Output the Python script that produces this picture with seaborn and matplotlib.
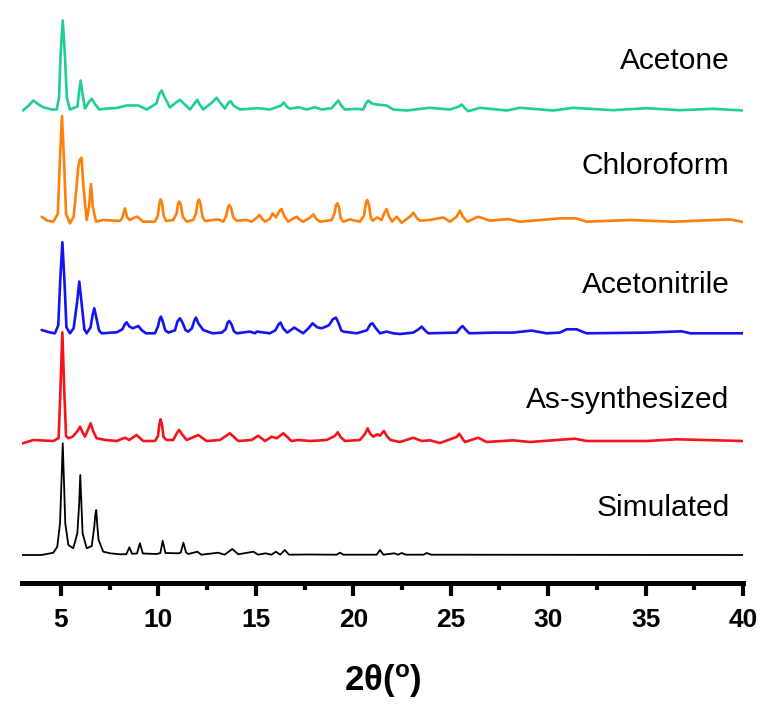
import matplotlib
matplotlib.use("Agg")
import matplotlib.pyplot as plt
import seaborn as sns
import pandas as pd
from matplotlib.ticker import MultipleLocator

# ---------------- data (2theta, intensity a.u.) ----------------
acetone_x = [3.04, 3.35, 3.58, 3.85, 4.09, 4.52, 4.78, 4.90, 4.98, 5.09, 5.20, 5.30, 5.46, 5.85, 5.93,
             6.01, 6.09, 6.23, 6.45, 6.58, 6.72, 6.97, 7.40, 7.86, 8.37, 8.97, 9.40, 9.90, 10.05, 10.17,
             10.30, 10.59, 10.90, 11.11, 11.30, 11.62, 11.85, 12.00, 12.12, 12.30, 12.75, 12.99, 13.20,
             13.42, 13.60, 13.71, 13.85, 14.19, 15.12, 15.72, 16.30, 16.44, 16.58, 16.75, 17.18, 17.61,
             18.03, 18.38, 18.89, 19.10, 19.23, 19.38, 19.57, 20.17, 20.51, 20.65, 20.77, 20.95, 21.20,
             21.71, 22.05, 22.74, 23.93, 24.96, 25.42, 25.56, 25.70, 25.90, 26.50, 27.87, 28.55, 30.26,
             31.29, 33.34, 35.05, 36.76, 38.47, 40.00]
acetone_y = [-1, 4, 9, 5, 2.3, 0, 0, 12, 55, 89, 55, 12, 0, 3, 18,
             29, 18, 1, 8, 10.7, 6, 0, 1, 1.5, 4, 4, 0, 6, 16, 19,
             13, 2, 7, 9.7, 6, 0, 6, 9.7, 5, 0, 7, 11.7, 6,
             1, 7, 8.3, 4, 0, 1.3, 0, 4, 7, 3, 0.7, 2.3, 0,
             2.3, 0, 1.3, 6, 9, 4, 0, 0.7, 0, 6, 9, 6, 5,
             4, 0, -1, 1.7, 0, 3, 5, 2, -1.7, 1.7, -1, 1.7, -1,
             1.7, -0.7, 1.3, -0.7, 0.7, -1]

chloroform_x = [4.01, 4.30, 4.61, 4.84, 4.94, 5.05, 5.16, 5.26, 5.46, 5.65, 5.80, 5.89, 5.97, 6.06, 6.15,
                6.32, 6.44, 6.54, 6.63, 6.80, 7.17, 8.03, 8.15, 8.28, 8.41, 8.54, 8.75, 8.92, 9.10, 9.22,
                9.82, 9.97, 10.05, 10.11, 10.19, 10.27, 10.39, 10.76, 10.93, 11.01, 11.07, 11.15, 11.25,
                11.45, 11.79, 11.93, 12.01, 12.08, 12.16, 12.26, 12.39, 13.07, 13.33, 13.48, 13.58, 13.64,
                13.72, 13.85, 14.02, 14.53, 14.78, 15.05, 15.18, 15.32, 15.47, 15.72, 15.86, 16.03, 16.22,
                16.32, 16.45, 16.66, 16.90, 17.09, 17.25, 17.43, 17.78, 17.95, 18.10, 18.29, 18.89, 19.03,
                19.12, 19.18, 19.26, 19.35, 19.49, 19.83, 20.34, 20.55, 20.65, 20.72, 20.80, 20.90, 20.99,
                21.23, 21.46, 21.60, 21.71, 21.82, 21.99, 22.23, 22.48, 22.90, 23.08, 23.25, 23.42, 23.93,
                24.62, 24.96, 25.30, 25.47, 25.62, 25.85, 26.41, 27.01, 27.95, 28.55, 30.60, 31.46, 31.98,
                34.19, 36.42, 39.33, 40.00]
chloroform_y = [5, 1, 0, 8, 60, 105.7, 60, 8, -1.7, 5, 35, 55, 62, 64, 35,
                1.7, 15, 37.7, 15, 0, 1.7, 0.7, 4, 13.3, 4, 1.7, 4, 5, 2, 0,
                0, 6, 18, 22.3, 18, 6, 0.7, 1.7, 8, 18, 20, 17, 5,
                0, 1.7, 8, 19, 22.3, 18, 5, 0.7, 2.3, 0, 6, 15, 16.7,
                14, 4, 1, 1.7, 0, 4, 6.7, 3, 0, 3, 8.3, 4.3, 11,
                12.7, 6, 0, 3, 5, 2, 0, 4, 7.3, 3, 0, 1.7, 8,
                17, 18.3, 15, 4, 0, 2.3, 0, 6, 19, 21.7, 17, 4, 1,
                4.3, 1.7, 9, 12.7, 6, 0, 5, -1, 5, 9, 4, 1, 1.7,
                4.3, 0, 5, 11, 5, 0, 5, 1, 2.7, 0, 3.3, 3.3, 0,
                1.7, 0, 2.3, -0.3]

acetonitrile_x = [4.01, 4.40, 4.69, 4.86, 4.96, 5.07, 5.18, 5.28, 5.46, 5.65, 5.82, 5.94, 6.06, 6.20, 6.32,
                  6.52, 6.62, 6.71, 6.80, 6.95, 7.09, 7.86, 8.15, 8.28, 8.37, 8.50, 8.68, 8.97, 9.15, 9.36,
                  9.82, 9.98, 10.06, 10.13, 10.22, 10.35, 10.51, 10.85, 10.98, 11.11, 11.25, 11.40, 11.53,
                  11.72, 11.85, 11.93, 12.05, 12.30, 12.78, 13.25, 13.45, 13.56, 13.64, 13.75, 13.88, 14.02,
                  14.70, 14.95, 15.05, 15.72, 16.00, 16.17, 16.27, 16.40, 16.61, 16.97, 17.43, 17.70, 17.91,
                  18.15, 18.38, 18.75, 18.95, 19.11, 19.25, 19.38, 19.49, 20.17, 20.70, 20.88, 20.99, 21.12,
                  21.37, 21.71, 22.05, 22.40, 23.08, 23.35, 23.51, 23.68, 23.85, 25.30, 25.48, 25.61, 25.75,
                  25.95, 27.18, 28.20, 29.15, 29.92, 30.60, 30.95, 31.46, 31.97, 35.05, 36.85, 37.30, 40.00]
acetonitrile_y = [3.3, 1, 0, 8, 52, 91, 52, 6, 0, 5, 30, 51.7, 30, 4, 0,
                  6, 18, 25, 17, 3, 0, 1, 4, 9, 11, 7, 5, 7.3, 3, 0,
                  0, 7, 14, 16.7, 12, 3, 0.7, 3, 12, 15, 10, 3, 1.7,
                  5, 13, 15.7, 10, 3.3, 0, 0.7, 4, 11, 12.3, 9, 2, 0,
                  1.7, 0, 1.7, 0, 3, 9, 10.7, 5, 0.7, 5.7, 0, 5, 10,
                  6, 5, 8, 14, 15.7, 10, 3, 1.7, 0, 3, 9, 10, 6,
                  0, 1.7, 0, -0.7, 0.7, 4, 6.7, 3, 0, 0.7, 5, 7.3, 4,
                  0, 0.7, 0.7, 2.7, 0, 0.7, 4, 4, 0, 0.7, 2, 0, 0]

assyn_x = [3.04, 3.58, 4.61, 4.88, 4.97, 5.07, 5.17, 5.26, 5.38, 5.60, 5.85, 5.98, 6.10, 6.23, 6.40,
           6.52, 6.65, 6.83, 7.30, 7.86, 8.28, 8.50, 8.88, 9.22, 9.82, 9.98, 10.05, 10.11, 10.18, 10.26,
           10.42, 10.76, 10.95, 11.07, 11.20, 11.45, 12.05, 12.47, 13.16, 13.67, 14.10, 14.78, 15.12,
           15.47, 15.81, 16.07, 16.41, 16.83, 17.18, 17.78, 18.63, 19.05, 19.20, 19.35, 19.57, 20.34,
           20.60, 20.74, 20.88, 21.03, 21.23, 21.37, 21.57, 21.72, 21.91, 22.40, 23.08, 23.51, 23.93,
           24.45, 25.05, 25.30, 25.44, 25.58, 25.73, 26.41, 26.84, 28.20, 29.06, 31.37, 31.98, 35.05,
           36.59, 40.00]
assyn_y = [-2.3, 1, 0, 3, 50, 108.7, 50, 5, 2.7, 4.3, 10, 14.3, 9, 4.3, 12,
           17.7, 10, 2.7, 1, 0, 3.3, 1, 6, 0, 0, 5, 17, 21.7, 17, 4,
           1, 1, 8, 11, 7, 1, 6, 0, 1, 7.7, 0, 1, 5.3,
           0, 4.3, 2.7, 7.7, 0, 1, 0, 1, 5, 8.7, 4, 0, 1,
           7, 12.7, 7, 4.3, 6.7, 5.3, 10, 5, 1, -1, 3.3, 0, 0.7,
           -2, 2.3, 4, 7.3, 3, -1, 3.3, -1, 0.7, -1, 2.3, 0, 0,
           1.7, 0]

sim_x = [3.00, 4.01, 4.61, 4.81, 4.95, 5.02, 5.09, 5.16, 5.22, 5.38, 5.63, 5.84, 5.93, 5.99, 6.05,
         6.11, 6.32, 6.58, 6.71, 6.76, 6.81, 6.87, 6.93, 7.17, 7.52, 8.03, 8.35, 8.51, 8.65, 8.90,
         9.05, 9.20, 9.91, 10.10, 10.22, 10.36, 11.02, 11.15, 11.28, 11.42, 11.53, 12.00, 12.20,
         13.07, 13.40, 13.79, 14.10, 14.87, 15.12, 15.50, 15.80, 16.03, 16.25, 16.49, 16.70, 17.60,
         19.15, 19.32, 19.50, 21.20, 21.37, 21.55, 22.10, 22.30, 22.48, 22.70, 23.60, 23.77, 24.00,
         40.00]
sim_y = [0, 0, 2.3, 8.3, 31.7, 70, 111.7, 70, 31.7, 10, 6.7, 21.7, 50, 80, 50,
         21.7, 6.7, 9, 28.3, 40, 45, 28, 15, 3.3, 1.7, 0.7, 0.8, 7.7, 1.2, 1.5,
         11.7, 1.5, 1, 2, 14.3, 2, 1.7, 2.5, 12.3, 2.5, 1, 3.3, 0.3,
         2.3, 0.3, 6, 0.7, 3.3, 0.3, 1.7, 0.3, 3.3, 0.3, 5, 0.3, 0.5,
         0.3, 2.3, 0.3, 0.3, 5, 0.3, 1.7, 0.3, 2, 0.3, 0.3, 2, 0.3,
         0]

labels = ["Acetone", "Chloroform", "Acetonitrile", "As-synthesized", "Simulated"]
xs = [acetone_x, chloroform_x, acetonitrile_x, assyn_x, sim_x]
ys = [acetone_y, chloroform_y, acetonitrile_y, assyn_y, sim_y]
x_ticks = [5, 10, 15, 20, 25, 30, 35, 40]

# ---------------- layout / style ----------------
offsets = [473.5, 361.3, 249.7, 142, 28]
label_y = [522, 417, 298, 183, 75]
colors = ["#1fcf8f", "#ff7f0a", "#1414ee", "#f5141a", "#000000"]
widths = [1.9, 1.9, 1.9, 1.9, 1.3]

sns.set_theme(style="white")
plt.rcParams["font.family"] = ["Liberation Sans", "DejaVu Sans"]
plt.rcParams["mathtext.fontset"] = "custom"
plt.rcParams["mathtext.bf"] = "Liberation Sans:bold"
plt.rcParams["mathtext.rm"] = "Liberation Sans:bold"
plt.rcParams["text.color"] = "black"
plt.rcParams["axes.labelcolor"] = "black"
plt.rcParams["xtick.color"] = "black"
plt.rcParams["xtick.labelcolor"] = "black"

fig = plt.figure(figsize=(7.76, 7.13), dpi=100)
ax = fig.add_axes([22 / 776, 130 / 713, (743 - 22) / 776, 583 / 713])

for lab, x, y, off, c, lw in zip(labels, xs, ys, offsets, colors, widths):
    df = pd.DataFrame({"x": x, "y": [v + off for v in y]})
    sns.lineplot(data=df, x="x", y="y", ax=ax, color=c, lw=lw, sort=False,
                 estimator=None, legend=False)

for lab, ly in zip(labels, label_y):
    ax.text(39.3, ly, lab, ha="right", va="center", fontsize=21.5, color="black")

ax.set_xlim(3, 40)
ax.set_ylim(0, 583)
ax.set_xticks(x_ticks)
ax.xaxis.set_minor_locator(MultipleLocator(2.5))
ax.set_yticks([])
for s in ["left", "right", "top"]:
    ax.spines[s].set_visible(False)
ax.spines["bottom"].set_linewidth(3.6)
ax.spines["bottom"].set_color("black")
ax.tick_params(axis="x", which="major", direction="out", length=9, width=3, color="black",
               labelcolor="black", bottom=True, labelsize=19, pad=9)
ax.tick_params(axis="x", which="minor", direction="out", length=5, width=3, color="black",
               bottom=True)
for t in ax.get_xticklabels():
    t.set_fontweight("bold")
ax.set_xlabel("2θ($\\mathbf{^{o}}$)", fontsize=25, fontweight="bold", labelpad=22, color="black")
ax.set_ylabel("")
ax.patch.set_alpha(0)

fig.savefig("out.png", dpi=100)
